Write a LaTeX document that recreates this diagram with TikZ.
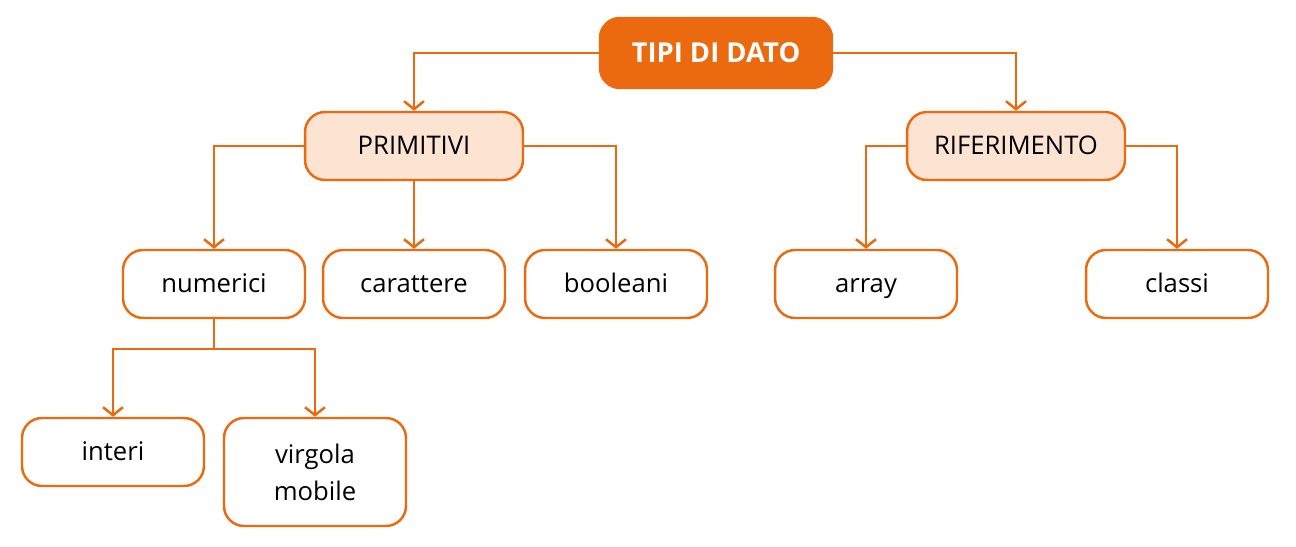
\documentclass[tikz,border=0pt]{standalone}
\usepackage{fontspec}
\setmainfont{Open Sans}
\usepackage{xcolor}
\usetikzlibrary{positioning, calc, arrows.meta}

\definecolor{arancio}{HTML}{EB690F}
\definecolor{pesca}{HTML}{FDE3D1}

\tikzset{
  box/.style={draw=arancio, line width=1.4pt, rounded corners=0.4cm, fill=white,
    minimum width=3.64cm, minimum height=1.36cm, align=center,
    text height=2.1ex, text depth=0.2ex, font=\fontsize{14.6}{21}\selectfont},
  topbox/.style={box, fill=arancio, text=white, minimum width=4.64cm, minimum height=1.4cm,
    text height=2.2ex, text depth=0.2ex, font=\fontsize{15.6}{19}\selectfont\bfseries},
  midbox/.style={box, fill=pesca, minimum width=4.36cm},
  arr/.style={draw=arancio, line width=1.4pt, -{Straight Barb[length=1.6mm,width=4mm,line width=1.4pt]}},
  lin/.style={draw=arancio, line width=1.4pt}
}

\begin{document}
\begin{tikzpicture}[x=0.02cm,y=-0.02cm]
      \useasboundingbox (0,0) rectangle (1296,547);
      % nodi
      \node[topbox] (tipi) at (716,53) {TIPI DI DATO};
      \node[midbox] (prim) at (414,146) {PRIMITIVI};
      \node[midbox] (rif) at (1016,146) {RIFERIMENTO};
      \node[box] (num) at (214,284) {numerici};
      \node[box] (car) at (414,284) {carattere};
      \node[box] (bool) at (616,284) {booleani};
      \node[box] (arr) at (866,284) {array};
      \node[box] (cla) at (1177,284) {classi};
      \node[box] (int) at (113,452) {interi};
      \node[box, minimum height=2.16cm, text height=, text depth=] (virg) at (315,472) {virgola\\mobile};
      \coordinate (split) at (214,349);
      % collegamenti
      \draw[arr] (tipi.west) -| (prim.north);
      \draw[arr] (tipi.east) -| (rif.north);
      \draw[arr] (prim.west) -| (num.north);
      \draw[arr] (prim.south) -- (car.north);
      \draw[arr] (prim.east) -| (bool.north);
      \draw[arr] (rif.west) -| (arr.north);
      \draw[arr] (rif.east) -| (cla.north);
      \draw[lin] (num.south) -- (split);
      \draw[arr] (split) -| (int.north);
      \draw[arr] (split) -| (virg.north);
    \end{tikzpicture}
\end{document}
